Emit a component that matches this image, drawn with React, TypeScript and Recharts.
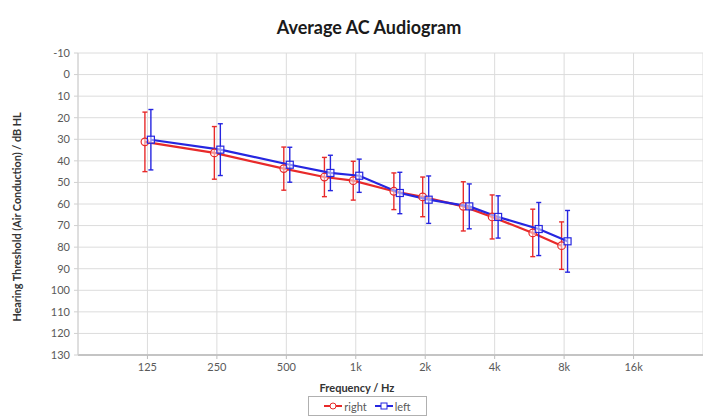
import React from "react"
import { CartesianGrid, ErrorBar, Legend, Line, LineChart, XAxis, YAxis } from "recharts"

document.body.style.margin = "0"

const frequencies = [125, 250, 500, 750, 1000, 1500, 2000, 3000, 4000, 6000, 8000]
const rightMean = [31.2, 36.3, 43.6, 47.5, 49.2, 54.1, 56.7, 61.1, 66.0, 73.4, 79.3]
const rightSd = [13.8, 12.2, 10.0, 9.1, 9.0, 8.5, 9.2, 11.4, 10.2, 11.0, 11.0]
const leftMean = [30.2, 34.8, 41.8, 45.6, 46.9, 54.9, 58.0, 61.1, 66.0, 71.6, 77.3]
const leftSd = [14.0, 12.0, 8.1, 8.2, 7.7, 9.6, 11.0, 10.4, 9.8, 12.3, 14.3]

const xTicks = [125, 250, 500, 1000, 2000, 4000, 8000, 16000]
const yTicks = [-10, 0, 10, 20, 30, 40, 50, 60, 70, 80, 90, 100, 110, 120, 130]

const RED = "#e82a2a"
const BLUE = "#2626e0"
const FONT = "Lato, 'Liberation Sans', sans-serif"

// small horizontal nudge so the two ears' error bars don't sit on top of each other
const rightData = frequencies.map((f, i) => ({ x: f * 0.975, y: rightMean[i], err: rightSd[i] }))
const leftData = frequencies.map((f, i) => ({ x: f * 1.035, y: leftMean[i], err: leftSd[i] }))

const fmtFreq = (v: number) => (v >= 1000 ? `${v / 1000}k` : `${v}`)

const SquareDot = (props: any) => {
  const { cx, cy } = props
  if (cx == null || cy == null) return null
  return <rect x={cx - 3.5} y={cy - 3.5} width={7} height={7} fill="rgba(255,255,255,0.5)" stroke={BLUE} strokeWidth={1.2} />
}

const CircleDot = (props: any) => {
  const { cx, cy } = props
  if (cx == null || cy == null) return null
  return <circle cx={cx} cy={cy} r={3.8} fill="rgba(255,255,255,0.5)" stroke={RED} strokeWidth={1.2} />
}

const LegendBox = () => (
  <div
    style={{
      border: "1px solid #b0b0b0",
      width: 117,
      height: 18,
      display: "flex",
      alignItems: "center",
      justifyContent: "center",
      gap: 8,
      fontFamily: FONT,
      fontSize: 11,
      color: "#595959",
      background: "#fff",
    }}
  >
    <span style={{ display: "flex", alignItems: "center" }}>
      <svg width={18} height={10}>
        <line x1={0} y1={5} x2={18} y2={5} stroke={RED} strokeWidth={2} />
        <circle cx={9} cy={5} r={3} fill="#fff" stroke={RED} strokeWidth={1} />
      </svg>
      <span style={{ marginLeft: 2 }}>right</span>
    </span>
    <span style={{ display: "flex", alignItems: "center" }}>
      <svg width={18} height={10}>
        <line x1={0} y1={5} x2={18} y2={5} stroke={BLUE} strokeWidth={2} />
        <rect x={6} y={2} width={6} height={6} fill="#fff" stroke={BLUE} strokeWidth={1} />
      </svg>
      <span style={{ marginLeft: 2 }}>left</span>
    </span>
  </div>
)

export default function App() {
  return (
    <div style={{ position: "relative", width: 703, height: 417, background: "#fff" }}>
      <div
        style={{
          position: "absolute",
          top: 16,
          left: 369,
          transform: "translateX(-50%)",
          fontFamily: FONT,
          fontWeight: 700,
          fontSize: 18,
          color: "#1a1a1a",
          whiteSpace: "nowrap",
        }}
      >
        Average AC Audiogram
      </div>
      <LineChart width={703} height={417} margin={{ top: 53, right: 0, bottom: 0, left: 0 }}>
        <CartesianGrid stroke="#dcdcdc" strokeWidth={1} />
        <XAxis
          dataKey="x"
          type="number"
          scale="log"
          domain={[62.5, 32000]}
          ticks={xTicks}
          tickFormatter={fmtFreq}
          allowDataOverflow
          height={42}
          tickSize={4}
          tickMargin={4}
          stroke="#bdbdbd"
          axisLine={{ stroke: "#c4c4c4", strokeWidth: 2 }}
          tick={{ fill: "#595959", fontSize: 11, fontFamily: FONT }}
          label={{
            content: () => (
              <text x={357} y={392} textAnchor="middle" fontFamily={FONT} fontSize={11} fontWeight={700} fill="#333">
                Frequency / Hz
              </text>
            ),
          }}
        />
        <YAxis
          type="number"
          reversed
          domain={[-10, 130]}
          ticks={yTicks}
          interval={0}
          width={78}
          tickSize={4}
          tickMargin={4}
          stroke="#d0d0d0"
          tick={{ fill: "#595959", fontSize: 11, fontFamily: FONT }}
          label={{
            content: () => (
              <text
                x={21}
                y={217}
                transform="rotate(-90 21 217)"
                textAnchor="middle"
                fontFamily={FONT}
                fontSize={10.8}
                fontWeight={700}
                fill="#333"
              >
                Hearing Threshold (Air Conduction)  / dB HL
              </text>
            ),
          }}
        />
        <Legend
          verticalAlign="bottom"
          height={20}
          content={() => <LegendBox />}
          wrapperStyle={{ left: 308, width: 119, bottom: 1 }}
        />
        <Line
          data={rightData}
          dataKey="y"
          name="right"
          stroke={RED}
          strokeWidth={2.2}
          dot={<CircleDot />}
          activeDot={false}
          isAnimationActive={false}
        >
          <ErrorBar dataKey="err" direction="y" stroke={RED} strokeWidth={1.4} width={2.5} isAnimationActive={false} />
        </Line>
        <Line
          data={leftData}
          dataKey="y"
          name="left"
          stroke={BLUE}
          strokeWidth={2.2}
          dot={<SquareDot />}
          activeDot={false}
          isAnimationActive={false}
        >
          <ErrorBar dataKey="err" direction="y" stroke={BLUE} strokeWidth={1.4} width={2.5} isAnimationActive={false} />
        </Line>
      </LineChart>
    </div>
  )
}
